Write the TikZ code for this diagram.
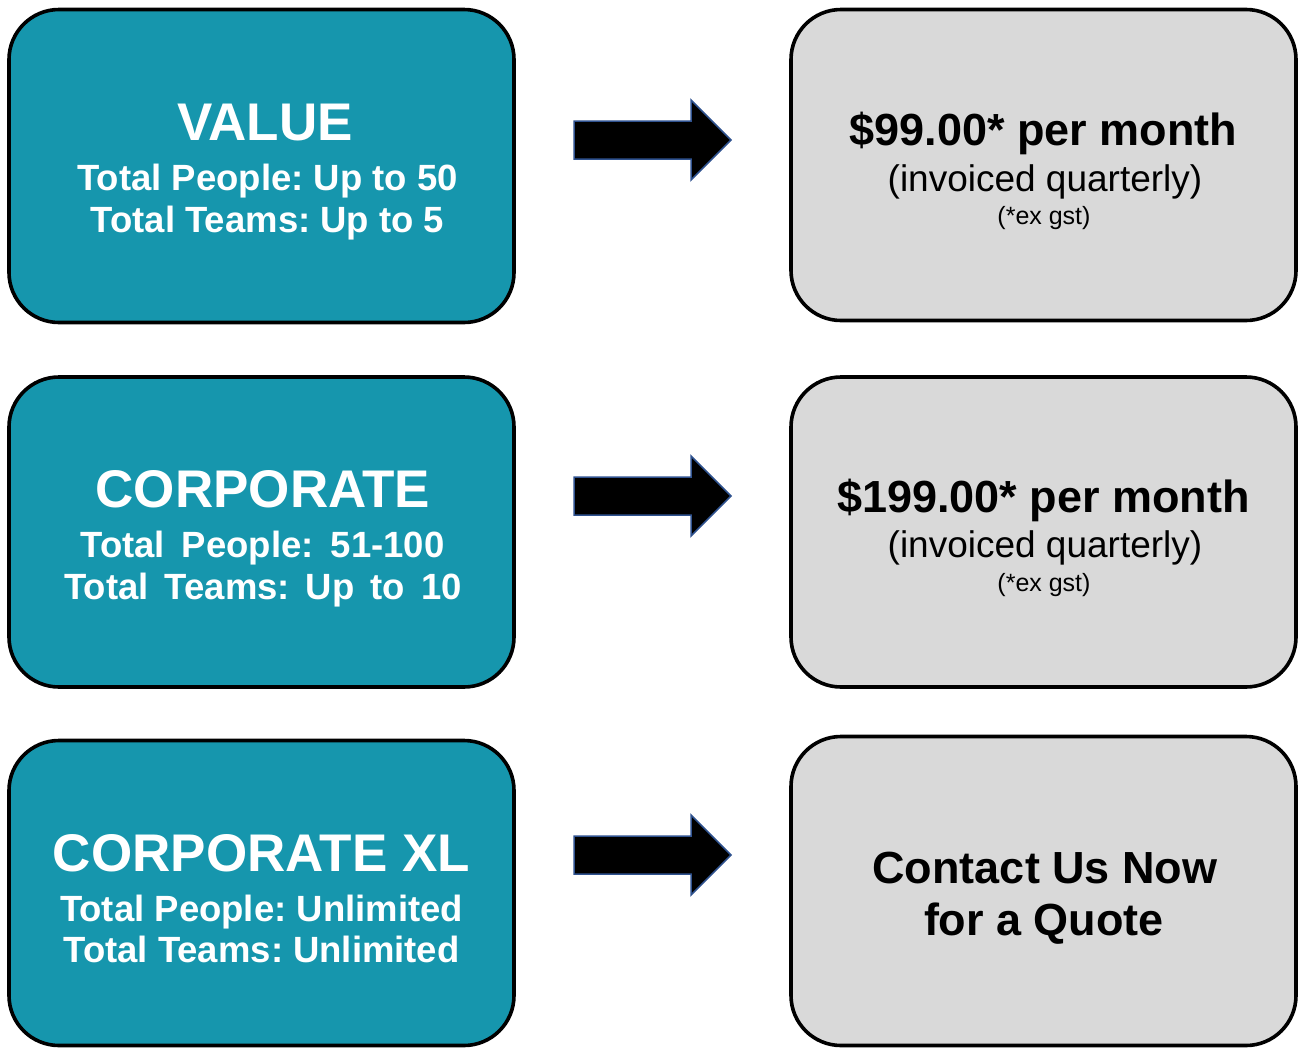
\documentclass[tikz,border=0pt]{standalone}
\usepackage{fontspec}
\setmainfont{Liberation Sans}
\usetikzlibrary{calc}
\definecolor{teal1}{RGB}{22,150,173}
\definecolor{grey1}{RGB}{217,217,217}
\definecolor{arrowedge}{RGB}{47,82,143}
\frenchspacing
\begin{document}
\begin{tikzpicture}[x=1pt,y=-1pt,
  plan/.style={draw=black, line width=3.6pt, rounded corners=50pt, minimum width=505pt, inner sep=0pt, outer sep=0pt},
  leftbox/.style={plan, fill=teal1},
  rightbox/.style={plan, fill=grey1},
  title/.style={anchor=base, inner sep=0pt, text=white, font=\fontsize{53}{60}\selectfont\bfseries},
  sub/.style={anchor=base, inner sep=0pt, text=white, font=\fontsize{36.5}{40}\selectfont\bfseries},
  price/.style={anchor=base, inner sep=0pt, text=black, font=\fontsize{45}{50}\selectfont\bfseries},
  inv/.style={anchor=base, inner sep=0pt, text=black, font=\fontsize{37}{42}\selectfont},
  gst/.style={anchor=base, inner sep=0pt, text=black, font=\fontsize{25}{30}\selectfont},
  blockarrow/.style={fill=black, draw=arrowedge, line width=1.5pt, line join=miter}
]
\useasboundingbox (0,0) rectangle (1304,1047);

% left boxes
\node[leftbox, minimum height=313pt] (l1) at (261.5,166) {};
\node[leftbox, minimum height=310pt] (l2) at (261.5,532) {};
\node[leftbox, minimum height=305pt] (l3) at (261.5,893) {};

% right boxes
\node[rightbox, minimum height=311pt] (r1) at (1043.5,165) {};
\node[rightbox, minimum height=310pt] (r2) at (1043.5,532) {};
\node[rightbox, minimum height=309pt] (r3) at (1043.5,891) {};

% left texts
\node[title] (t1) at (265,140) {VALUE};
\node[sub] (t1a) at (267.5,190) {Total People: Up to 50};
\node[sub] (t1b) at (267.5,232) {Total Teams: Up to 5};

\node[title] (t2) at (263,507) {CORPORATE};
\node[sub] (t2a) at (262.5,557) {Total\hspace{17pt}People:\hspace{17pt}51-100};
\node[sub] (t2b) at (263,599) {Total\hspace{16pt}Teams:\hspace{16pt}Up\hspace{16pt}to\hspace{16pt}10};

\node[title] (t3) at (261.5,871) {CORPORATE XL};
\node[sub] (t3a) at (261.5,921) {Total People: Unlimited};
\node[sub] (t3b) at (261.5,962) {Total Teams: Unlimited};

% right texts
\node[price] (p1) at (1043.5,145) {\$99.00* per month};
\node[inv] (p1a) at (1045,191) {(invoiced quarterly)};
\node[gst] (p1b) at (1044,224) {(*ex gst)};

\node[price] (p2) at (1043.5,512) {\$199.00* per month};
\node[inv] (p2a) at (1045,557) {(invoiced quarterly)};
\node[gst] (p2b) at (1044,591) {(*ex gst)};

\node[price] (p3) at (1045,883) {Contact Us Now};
\node[price] (p3a) at (1044,935) {for a Quote};

% arrows
\coordinate (a1) at (574,140);
\coordinate (a2) at (574,496);
\coordinate (a3) at (574,855);
\foreach \c in {a1,a2,a3}{
  \draw[blockarrow] ($(\c)+(0,-19)$) -- ++(117,0) -- ++(0,-21) -- ++(40,40) -- ++(-40,40) -- ++(0,-21) -- ++(-117,0) -- cycle;
}
\end{tikzpicture}
\end{document}
